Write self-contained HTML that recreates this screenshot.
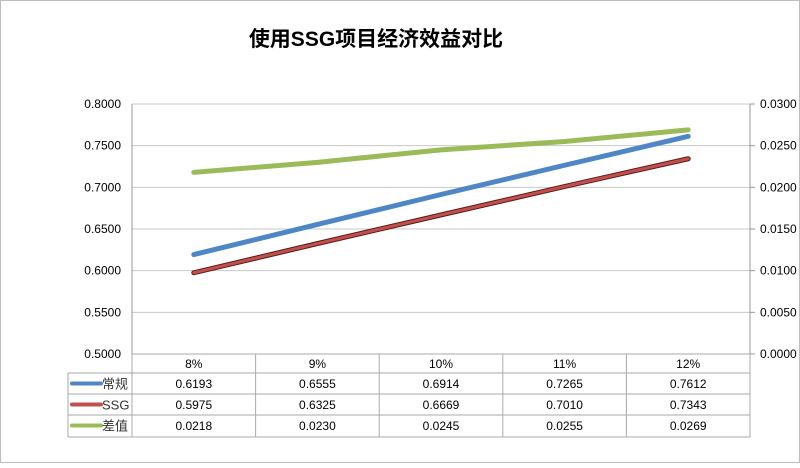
<!DOCTYPE html>
<html><head><meta charset="utf-8"><style>
body{margin:0;background:#fff}
svg text{font-family:"Liberation Sans","Noto Sans CJK SC",sans-serif}
</style></head><body>
<svg width="800" height="463" viewBox="0 0 800 463" xmlns="http://www.w3.org/2000/svg">
<rect x="0.5" y="0.5" width="799" height="462" fill="#fff" stroke="#bdbdbd"/>
<text x="376" y="46" text-anchor="middle" font-size="21" font-weight="bold" fill="#000">使用SSG项目经济效益对比</text>
<g id="grid"></g><g id="table"></g><g id="series"></g>
</svg>
<script>
const categories=["8%","9%","10%","11%","12%"];
const normalVals=[0.6193,0.6555,0.6914,0.7265,0.7612];
const ssgVals=[0.5975,0.6325,0.6669,0.7010,0.7343];
const diffVals=[0.0218,0.0230,0.0245,0.0255,0.0269];
const leftTicks=["0.5000","0.5500","0.6000","0.6500","0.7000","0.7500","0.8000"];
const rightTicks=["0.0000","0.0050","0.0100","0.0150","0.0200","0.0250","0.0300"];
const NS="http://www.w3.org/2000/svg";
const L=132,R=750,T=104,B=354;
const yL=v=>B-(v-0.5)/0.3*(B-T);
const yR=v=>B-v/0.03*(B-T);
const cw=(R-L)/categories.length;
const xC=i=>L+cw*(i+0.5);
function mk(tag,a,p){const e=document.createElementNS(NS,tag);for(const k in a)e.setAttribute(k,a[k]);p.appendChild(e);return e;}
const grid=document.getElementById('grid'),table=document.getElementById('table'),series=document.getElementById('series');
leftTicks.forEach((t,i)=>{const y=B-i*(B-T)/6;
 if(i>0){const g=mk('line',{x1:L,x2:R,y1:y,y2:y,stroke:'#c8c8c8'},grid);
 
 }
 const a=mk('text',{x:L-11,y:y+4,'text-anchor':'end','font-size':12},grid);a.textContent=t;
 
 
 const b=mk('text',{x:R+10,y:y+4,'font-size':12},grid);b.textContent=rightTicks[i];
 
 
 const tk=mk('line',{x1:R,x2:R+5,y1:y,y2:y,stroke:'#999'},grid);
 
 
});
mk('line',{x1:L,x2:L,y1:T,y2:B,stroke:'#999'},grid);
mk('line',{x1:R,x2:R,y1:T,y2:B,stroke:'#999'},grid);
// table
const rows=[373,394,415,437];
const rowData=[normalVals,ssgVals,diffVals];
const names=["常规","SSG","差值"];
const cols=["#4f86c6","#c0504d","#9bbb59"];
mk('line',{x1:L,x2:R,y1:B,y2:B,stroke:'#aaa'},table);
rows.forEach(y=>mk('line',{x1:(y===373?68:68),x2:R,y1:y,y2:y,stroke:'#aaa'},table));
mk('line',{x1:68,x2:68,y1:373,y2:437,stroke:'#aaa'},table);
for(let i=0;i<=categories.length;i++){mk('line',{x1:L+cw*i,x2:L+cw*i,y1:B,y2:437,stroke:'#aaa'},table);}
categories.forEach((c,i)=>{const t=mk('text',{x:xC(i),y:368,'text-anchor':'middle','font-size':12},table);t.textContent=c;
 
 
 rowData.forEach((arr,r)=>{const v=mk('text',{x:xC(i),y:rows[r]+15,'text-anchor':'middle','font-size':12},table);v.textContent=arr[i].toFixed(4);
 
 });
});
names.forEach((n,r)=>{const y=rows[r]+10.5;
 const k=mk('line',{x1:72,x2:101,y1:y,y2:y,stroke:cols[r],'stroke-width':4,'stroke-linecap':'round'},table);
 
 
 const t=mk('text',{x:102,y:y+5,'font-size':13,fill:'#333'},table);t.textContent=n;
 
 
});
// series
function line(vals,f,color,name,outline){
 const pts=vals.map((v,i)=>xC(i)+','+f(v)).join(' ');
 if(outline){mk('polyline',{points:pts,fill:'none',stroke:'#5a1a18','stroke-width':5,'stroke-linecap':'round'},series);}
 const p=mk('polyline',{points:pts,fill:'none',stroke:color,'stroke-width':outline?3:5,'stroke-linecap':'round'},series);
 
 
}
line(diffVals,yR,cols[2],'series-diff-line',false);
line(ssgVals,yL,cols[1],'series-ssg-line',true);
line(normalVals,yL,cols[0],'series-normal-line',false);
</script>
</body></html>
